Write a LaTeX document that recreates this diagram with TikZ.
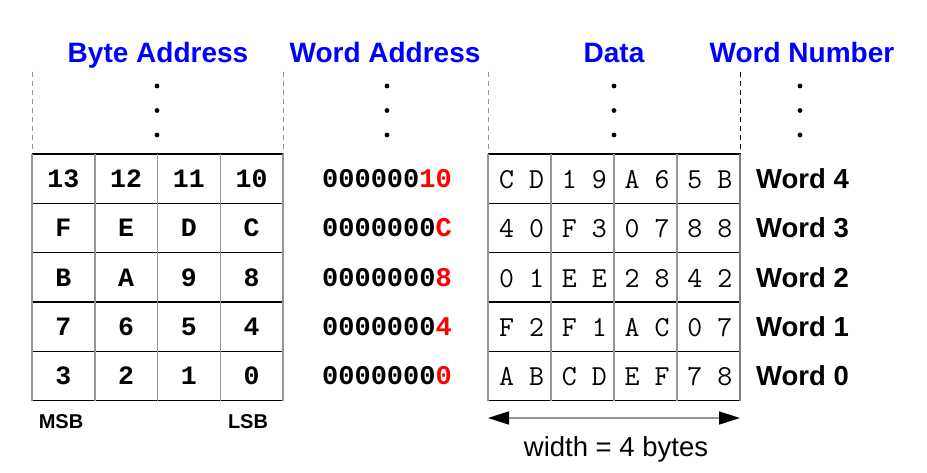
\documentclass[tikz,border=0pt]{standalone}
\usepackage{fontspec}
\setmainfont{Liberation Sans}
\newfontfamily\boldmono{Liberation Mono}
\usetikzlibrary{arrows.meta}
\definecolor{hdrblue}{RGB}{0,0,255}
\definecolor{addrred}{RGB}{255,0,0}
\definecolor{gridgray}{RGB}{150,150,150}
\begin{document}
\begin{tikzpicture}[x=1pt,y=-1pt,
  header/.style={font=\fontsize{28}{30}\selectfont\bfseries, text=hdrblue, inner sep=0pt, anchor=base},
  bytecell/.style={font=\fontsize{26.5}{28}\selectfont\boldmono\bfseries, inner sep=0pt, anchor=base},
  addrtext/.style={font=\fontsize{27}{28}\selectfont\boldmono\bfseries, inner sep=0pt, anchor=base},
  datacell/.style={font=\fontsize{29}{30}\selectfont\ttfamily, inner sep=0pt, anchor=base},
  wordlabel/.style={font=\fontsize{27.5}{30}\selectfont\bfseries, inner sep=0pt, anchor=base west},
  sidelabel/.style={font=\fontsize{20}{22}\selectfont\bfseries, inner sep=0pt, anchor=base},
  hline/.style={line width=1.3pt, black},
  vline/.style={line width=1.5pt, gridgray},
  guide/.style={line width=1pt, dash pattern=on 5pt off 4pt},
  dot/.style={black},
  widtharrow/.style={line width=1.5pt, gridgray,
    {Triangle[length=21pt,width=13pt,color=black]}-{Triangle[length=21pt,width=13pt,color=black]}}
]
\useasboundingbox (0,0) rectangle (927,473);

% column headings
\node[header] (hByte) at (158,63) {Byte Address};
\node[header] (hWord) at (385,63) {Word Address};
\node[header] (hData) at (614,63) {Data};
\node[header] (hNum)  at (802,63) {Word Number};

% dashed guides above the two tables
\draw[guide, gridgray] (32,72) -- (32,154);
\draw[guide, gridgray] (283,72) -- (283,154);
\draw[guide, gridgray] (488,72) -- (488,154);
\draw[guide, black]    (740,72) -- (740,154);

% ellipsis dots
\foreach \x in {157,387,614,800}
  \foreach \y in {86,110.5,135}
    \fill[dot] (\x,\y) circle (2.4);

% table grids: black horizontals, gray verticals
\foreach \y in {154,203.3,252.6,301.9,351.2,400.5} {
  \draw[hline] (32,\y) -- (283,\y);
  \draw[hline] (488,\y) -- (740,\y);
}
\foreach \x in {32,94.75,157.5,220.25,283}
  \draw[vline] (\x,154) -- (\x,400.5);
\foreach \x in {488,551,614,677}
  \draw[vline] (\x,154) -- (\x,400.5);
\draw[vline, gray] (740,154) -- (740,400.5);

% byte addresses, word addresses, data and word numbers, row by row
\foreach \r/\ba/\bb/\bc/\bd/\pre/\suf/\data/\w in {
    0/13/12/11/10/000000/10/{C,D,1,9,A,6,5,B}/4,
    1/F/E/D/C/0000000/C/{4,0,F,3,0,7,8,8}/3,
    2/B/A/9/8/0000000/8/{0,1,E,E,2,8,4,2}/2,
    3/7/6/5/4/0000000/4/{F,2,F,1,A,C,0,7}/1,
    4/3/2/1/0/0000000/0/{A,B,C,D,E,F,7,8}/0} {
  \pgfmathsetmacro{\yc}{178.6+49.3*\r}
  \node[bytecell] (b\r-0) at (63.4,\yc+9) {\ba};
  \node[bytecell] (b\r-1) at (126.1,\yc+9) {\bb};
  \node[bytecell] (b\r-2) at (188.9,\yc+9) {\bc};
  \node[bytecell] (b\r-3) at (251.6,\yc+9) {\bd};
  \node[addrtext] (a\r) at (387,\yc+9) {\pre\textcolor{addrred}{\suf}};
  \foreach \ch [count=\c from 0] in \data {
    \pgfmathsetmacro{\xc}{488+62.75*floor(\c/2)+(mod(\c,2)==0 ? 18.5 : 48.5)}
    \node[datacell] (d\r-\c) at (\xc,\yc+10) {\ch};
  }
  \node[wordlabel] (w\r) at (756,\yc+10) {Word \w};
}

% byte order labels
\node[sidelabel] (msb) at (61,428) {MSB};
\node[sidelabel] (lsb) at (248,428) {LSB};

% data width arrow
\coordinate (arrL) at (488,418);
\coordinate (arrR) at (740,418);
\draw[widtharrow] (arrL) -- (arrR);
\node[font=\fontsize{27.5}{30}\selectfont, inner sep=0pt, anchor=base] (wlabel) at (616,456) {width = 4 bytes};
\end{tikzpicture}
\end{document}
